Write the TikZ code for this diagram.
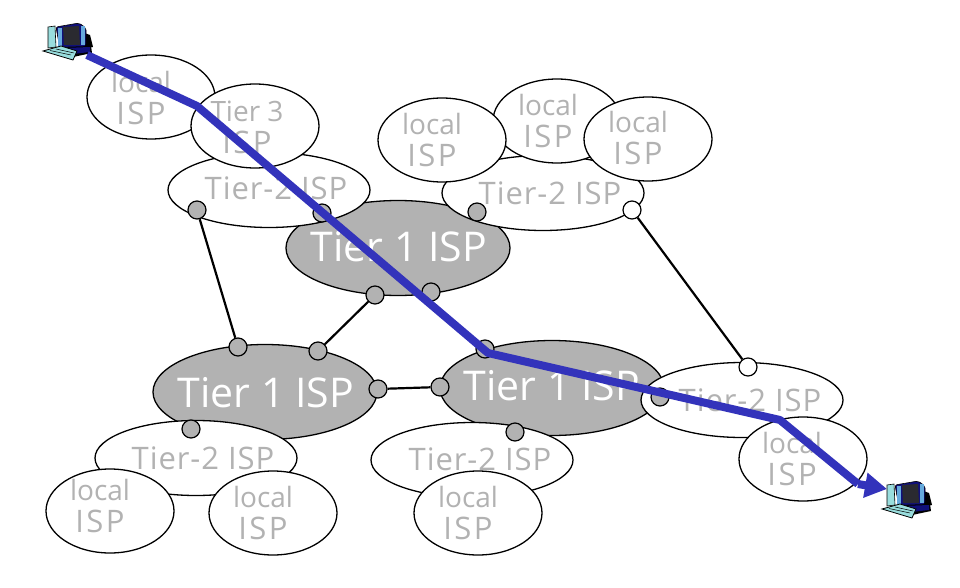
\documentclass[tikz,border=0pt]{standalone}
\usepackage{fontspec}
\setmainfont{Open Sans}
\usetikzlibrary{shapes.geometric,arrows.meta}
\definecolor{ispgrey}{HTML}{B2B2B2}
\definecolor{pathblue}{HTML}{3333BB}
\definecolor{pcnavy}{HTML}{10107A}
\definecolor{pcsky}{HTML}{66AADD}
\definecolor{pcteal}{HTML}{99DDDD}
\definecolor{pcscreen}{HTML}{2A2A30}
\newcommand{\ispword}{{\fontsize{31}{32}\selectfont\addfontfeature{LetterSpace=8}ISP}}
\newcommand{\twoword}{{\fontsize{31}{32}\selectfont\addfontfeature{LetterSpace=3}Tier-2 ISP}}
\tikzset{
  ispbase/.style={ellipse,draw=black,line width=1.3pt,inner sep=0pt,minimum width=#1},
  localisp/.style={ispbase=128pt,minimum height=84pt,fill=white},
  tiertwo/.style={ispbase=202pt,minimum height=75pt,fill=white},
  tierone/.style={ispbase=224pt,minimum height=95pt,fill=ispgrey},
  greytext/.style={text=ispgrey,align=center,inner sep=0pt,font=\fontsize{28}{32}\selectfont},
  onetext/.style={text=white,inner sep=0pt,font=\fontsize{41}{44}\selectfont},
  router/.style={circle,draw=black,line width=1.2pt,fill=ispgrey,minimum size=18pt,inner sep=0pt},
  openrouter/.style={router,fill=white},
  peerlink/.style={draw=black,line width=2.2pt},
  flowpath/.style={draw=pathblue,line width=8pt,line join=round},
  computer/.pic={
    \fill[black] (36,8) -- (47,12) -- (50,24) -- (38,26) -- cycle;
    \draw[black,fill=pcteal,line width=.6pt] (5,4) -- (12,3) -- (13,24) -- (5,25) -- cycle;
    \draw[black,fill=pcnavy,line width=.6pt,rounded corners=2pt] (13,4) -- (36,0) -- (43,5) -- (43,23) -- (38,28) -- (17,26) -- cycle;
    \fill[pcsky] (15,5) rectangle (19,24);
    \fill[pcsky] (38,3) rectangle (42,22);
    \fill[pcscreen] (20,4) -- (36,3) -- (37,22) -- (21,22) -- cycle;
    \fill[black] (18,24) -- (48,23) -- (49,30) -- (30,34) -- cycle;
    \fill[pcnavy] (20,25) -- (47,24) -- (47,29) -- (30,31) -- cycle;
    \draw[black,fill=pcteal,line width=.8pt] (0,28) -- (18,23) -- (34,28) -- (30,37) -- cycle;
    \draw[black,line width=.5pt] (7,27.5) -- (28,32) (13,26) -- (31,30);
  }
}
\begin{document}
\begin{tikzpicture}[x=1pt,y=-1pt]
\useasboundingbox (0,0) rectangle (960,588);
% Tier 1 backbones
\node[tierone] (backtop) at (398,248) {};
\node[onetext] (backtoptext) at (399,247) {Tier 1 ISP};
\node[tierone] (backleft) at (265,392) {};
\node[onetext] (backlefttext) at (266,393) {Tier 1 ISP};
\node[tierone] (backright) at (552,388) {};
\node[onetext] (backrighttext) at (552,386) {Tier 1 ISP};
% Tier 2
\node[tiertwo] (twotl) at (269,190) {};
\node[greytext] (twotltext) at (276,188) {\twoword};
\node[tiertwo] (twotr) at (543,193) {};
\node[greytext] (twotrtext) at (550,193) {\twoword};
\node[tiertwo] (twor) at (742,400) {};
\node[greytext] (tworext) at (750,400) {\twoword};
\node[tiertwo] (twobl) at (196,458) {};
\node[greytext] (twobltext) at (203,458) {\twoword};
\node[tiertwo] (twobm) at (472,460) {};
\node[greytext] (twobmtext) at (480,459) {\twoword};
% Local and tier 3
\node[localisp] (loctl) at (151,97) {};
\node[greytext] (loctltext) at (141,98) {local\\\ispword};
\node[localisp] (tierthree) at (255,126) {};
\node[greytext] (tierthreetext) at (247,127) {Tier 3\\\ispword};
\node[localisp] (loctop) at (557,121) {};
\node[greytext] (loctoptext) at (548,121) {local\\\ispword};
\node[localisp] (locleft) at (442,140) {};
\node[greytext] (loclefttext) at (432,140) {local\\\ispword};
\node[localisp] (locright) at (648,139) {};
\node[greytext] (locrighttext) at (638,138) {local\\\ispword};
\node[localisp] (locr) at (803,459) {};
\node[greytext] (locrtext) at (792,459) {local\\\ispword};
\node[localisp] (locba) at (110,511) {};
\node[greytext] (locbatext) at (100,506) {local\\\ispword};
\node[localisp] (locbb) at (273,513) {};
\node[greytext] (locbbtext) at (263,513) {local\\\ispword};
\node[localisp] (locbc) at (478,513) {};
\node[greytext] (locbctext) at (468,513) {local\\\ispword};
% Routers
\node[router] (ra) at (197,210) {};
\node[router] (rb) at (322,213) {};
\node[router] (rc) at (375,295) {};
\node[router] (rd) at (431,292) {};
\node[router] (re) at (238,347) {};
\node[router] (rf) at (318,351) {};
\node[router] (rg) at (378,389) {};
\node[router] (rh) at (440,387) {};
\node[router] (ri) at (485,349) {};
\node[router] (rj) at (660,397) {};
\node[router] (rk) at (191,429) {};
\node[router] (rl) at (515,432) {};
\node[router] (rm) at (477,212) {};
\node[openrouter] (rn) at (632,210) {};
\node[openrouter] (ro) at (748,367) {};
% Peering links
\draw[peerlink] (ra) -- (re);
\draw[peerlink] (rc) -- (rf);
\draw[peerlink] (rg) -- (rh);
\draw[peerlink] (rn) -- (ro);
% Computers
\pic at (43,23) {computer};
\pic at (882,481) {computer};
% Path
\coordinate (ps) at (87,55);
\coordinate (pa) at (197,106);
\coordinate (pb) at (488,353);
\coordinate (pc) at (780,420);
\coordinate (pd) at (858,484);
\coordinate (pe) at (887,489);
\draw[flowpath] (ps) -- (pa) -- (pb) -- (pc) -- (pd);
\draw[flowpath,-{Triangle[length=22pt,width=24pt]}] (pd) -- (pe);
\end{tikzpicture}
\end{document}
